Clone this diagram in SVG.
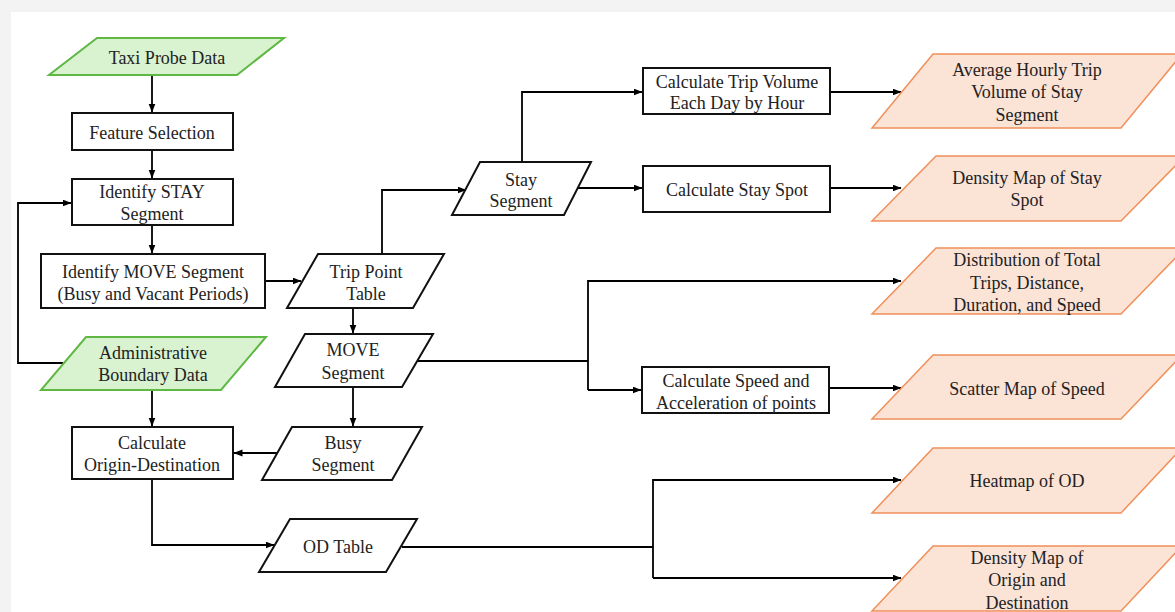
<svg xmlns="http://www.w3.org/2000/svg" width="1175" height="612" viewBox="0 0 1175 612">
<defs>
<marker id="ah" markerWidth="9" markerHeight="8" refX="8.5" refY="3.5" orient="auto" markerUnits="userSpaceOnUse">
<path d="M0,0 L9,3.5 L0,7 z" fill="#000"/>
</marker>
<style>
.box{fill:#fff;stroke:#111;stroke-width:2}
.in{fill:#d9f2d0;stroke:#5fb844;stroke-width:2}
.out{fill:#fbe3d6;stroke:#f0905a;stroke-width:1.5}
.con{fill:none;stroke:#000;stroke-width:1.8}
text{font-family:"Liberation Serif","Times New Roman",serif;font-size:18px;fill:#222;text-anchor:middle}
</style>
</defs>
<rect x="0" y="0" width="1175" height="612" fill="#f3f3f3"/>
<rect x="11" y="12" width="1164" height="600" fill="#fff"/>

<g id="connectors">
<path class="con" d="M152,75 V112" marker-end="url(#ah)"/>
<path class="con" d="M152,150 V178" marker-end="url(#ah)"/>
<path class="con" d="M152,225 V253" marker-end="url(#ah)"/>
<path class="con" d="M265,281 H301" marker-end="url(#ah)"/>
<path class="con" d="M63,363 H18 V203 H71" marker-end="url(#ah)"/>
<path class="con" d="M152,390 V426" marker-end="url(#ah)"/>
<path class="con" d="M382,254 V190 H466" marker-end="url(#ah)"/>
<path class="con" d="M522,162 V92 H642" marker-end="url(#ah)"/>
<path class="con" d="M577,188 H642" marker-end="url(#ah)"/>
<path class="con" d="M830,92 H901" marker-end="url(#ah)"/>
<path class="con" d="M830,188 H901" marker-end="url(#ah)"/>
<path class="con" d="M353,308 V333" marker-end="url(#ah)"/>
<path class="con" d="M417,361 H588"/>
<path class="con" d="M588,390 V281 H901" marker-end="url(#ah)"/>
<path class="con" d="M588,390 H641" marker-end="url(#ah)"/>
<path class="con" d="M829,388 H901" marker-end="url(#ah)"/>
<path class="con" d="M353,387 V426" marker-end="url(#ah)"/>
<path class="con" d="M280,453 H234" marker-end="url(#ah)"/>
<path class="con" d="M152,479 V545 H274" marker-end="url(#ah)"/>
<path class="con" d="M402,547 H653"/>
<path class="con" d="M653,578 V480 H901" marker-end="url(#ah)"/>
<path class="con" d="M653,578 H901" marker-end="url(#ah)"/>
</g>

<g id="taxi-probe-data">
<polygon class="in" points="97,38 284,38 237,75 49,75"/>
<text x="167" y="64">Taxi Probe Data</text>
</g>
<g id="feature-selection">
<rect class="box" x="72" y="113" width="161" height="37"/>
<text x="152" y="139">Feature Selection</text>
</g>
<g id="identify-stay">
<rect class="box" x="72" y="179" width="161" height="46"/>
<text x="152" y="198">Identify STAY</text>
<text x="152" y="220">Segment</text>
</g>
<g id="identify-move">
<rect class="box" x="41" y="254" width="224" height="54"/>
<text x="153" y="278">Identify MOVE Segment</text>
<text x="153" y="300">(Busy and Vacant Periods)</text>
</g>
<g id="admin-boundary">
<polygon class="in" points="86,337 266,337 221,390 41,390"/>
<text x="153" y="359">Administrative</text>
<text x="153" y="381">Boundary Data</text>
</g>
<g id="calc-od">
<rect class="box" x="72" y="427" width="161" height="52"/>
<text x="152" y="449">Calculate</text>
<text x="152" y="471">Origin-Destination</text>
</g>
<g id="trip-point-table">
<polygon class="box" points="318,254 444,254 413,308 287,308"/>
<text x="366" y="278">Trip Point</text>
<text x="366" y="300">Table</text>
</g>
<g id="move-segment">
<polygon class="box" points="305,334 433,334 402,387 275,387"/>
<text x="353" y="356">MOVE</text>
<text x="353" y="379">Segment</text>
</g>
<g id="busy-segment">
<polygon class="box" points="292,427 422,427 392,480 262,480"/>
<text x="343" y="449">Busy</text>
<text x="343" y="471">Segment</text>
</g>
<g id="od-table">
<polygon class="box" points="290,519 417,519 386,572 259,572"/>
<text x="338" y="553">OD Table</text>
</g>
<g id="stay-segment">
<polygon class="box" points="480,162 591,162 564,215 452,215"/>
<text x="521" y="186">Stay</text>
<text x="521" y="207">Segment</text>
</g>
<g id="calc-trip-volume">
<rect class="box" x="643" y="68" width="187" height="46"/>
<text x="737" y="88">Calculate Trip Volume</text>
<text x="737" y="109">Each Day by Hour</text>
</g>
<g id="calc-stay-spot">
<rect class="box" x="643" y="166" width="187" height="46"/>
<text x="737" y="196">Calculate Stay Spot</text>
</g>
<g id="calc-speed">
<rect class="box" x="642" y="367" width="187" height="46"/>
<text x="736" y="387">Calculate Speed and</text>
<text x="736" y="409">Acceleration of points</text>
</g>
<g id="out-avg-hourly">
<polygon class="out" points="933,54 1182,54 1121,128 872,128"/>
<text x="1027" y="76">Average Hourly Trip</text>
<text x="1027" y="98">Volume of Stay</text>
<text x="1027" y="121">Segment</text>
</g>
<g id="out-density-stay">
<polygon class="out" points="936,156 1185,156 1121,221 872,221"/>
<text x="1027" y="184">Density Map of Stay</text>
<text x="1027" y="206">Spot</text>
</g>
<g id="out-distribution">
<polygon class="out" points="936,248 1185,248 1121,314 872,314"/>
<text x="1027" y="266">Distribution of Total</text>
<text x="1027" y="289">Trips, Distance,</text>
<text x="1027" y="311">Duration, and Speed</text>
</g>
<g id="out-scatter">
<polygon class="out" points="933,355 1182,355 1121,419 872,419"/>
<text x="1027" y="395">Scatter Map of Speed</text>
</g>
<g id="out-heatmap">
<polygon class="out" points="933,448 1182,448 1121,513 872,513"/>
<text x="1027" y="487">Heatmap of OD</text>
</g>
<g id="out-density-od">
<polygon class="out" points="933,546 1182,546 1121,611 872,611"/>
<text x="1027" y="564">Density Map of</text>
<text x="1027" y="586">Origin and</text>
<text x="1027" y="609">Destination</text>
</g>
</svg>
